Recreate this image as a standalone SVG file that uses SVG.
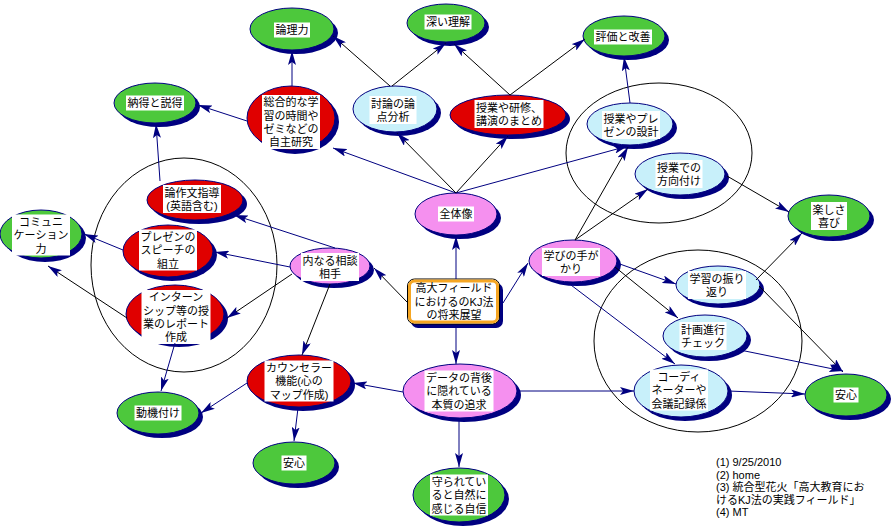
<svg xmlns="http://www.w3.org/2000/svg" width="891" height="530" viewBox="0 0 891 530">
  <defs>
    <marker id="ah" markerWidth="14" markerHeight="8" refX="14" refY="4" orient="auto" markerUnits="userSpaceOnUse">
      <path d="M0,0 L14,4 L0,8 L3,4 z" fill="#000080"/>
    </marker>
    <style>
      .bg { fill: #ffffff; }
      .sh { fill: #000080; }
      .g { fill: #4dc83c; stroke: #000080; stroke-width: 1; }
      .r { fill: #e00000; stroke: #000080; stroke-width: 1; }
      .p { fill: #f590ef; stroke: #000080; stroke-width: 1; }
      .b { fill: #c8f0fa; stroke: #000080; stroke-width: 1; }
      .box { fill: #ffffff; }
      .t { font-family: "Liberation Sans", "Noto Sans CJK JP", "Noto Sans CJK SC", sans-serif; font-size: 11px; fill: #000000; text-anchor: middle; }
      .note { font-family: "Liberation Sans", "Noto Sans CJK JP", "Noto Sans CJK SC", sans-serif; font-size: 11px; fill: #000000; }
      .grp { fill: none; stroke: #000000; stroke-width: 1; }
      .n { stroke: #000080; stroke-width: 1; fill: none; marker-end: url(#ah); }
      .k { stroke: #000000; stroke-width: 1; fill: none; marker-end: url(#ah); }
    </style>
  </defs>
  <rect class="bg" x="0" y="0" width="891" height="530"/>

  <!-- grouping outlines -->
  <g id="groups">
    <ellipse class="grp" cx="184" cy="265" rx="93" ry="107"/>
    <ellipse class="grp" cx="659" cy="153" rx="93" ry="70"/>
    <ellipse class="grp" cx="698" cy="341" rx="104" ry="91"/>
  </g>

  <!-- nodes: shadow, body, label box, label -->
  <g id="n-ronri">
    <ellipse class="sh" cx="296" cy="33" rx="42" ry="21"/>
    <ellipse class="g" cx="292" cy="29" rx="42" ry="21"/>
    <rect class="box" x="274" y="22.5" width="36" height="15"/>
    <text class="t" x="292" y="34.2">論理力</text>
  </g>
  <g id="n-fukai">
    <ellipse class="sh" cx="450" cy="27" rx="39" ry="19"/>
    <ellipse class="g" cx="446" cy="23" rx="39" ry="19"/>
    <rect class="box" x="424.5" y="14.5" width="47" height="15"/>
    <text class="t" x="448" y="26.2">深い理解</text>
  </g>
  <g id="n-hyoka">
    <ellipse class="sh" cx="628" cy="40" rx="41" ry="20"/>
    <ellipse class="g" cx="624" cy="36" rx="41" ry="20"/>
    <rect class="box" x="594" y="29.5" width="58" height="15"/>
    <text class="t" x="623" y="41.2">評価と改善</text>
  </g>
  <g id="n-nattoku">
    <ellipse class="sh" cx="159" cy="107" rx="41" ry="20"/>
    <ellipse class="g" cx="155" cy="103" rx="41" ry="20"/>
    <rect class="box" x="126" y="95.5" width="58" height="15"/>
    <text class="t" x="155" y="107.2">納得と説得</text>
  </g>
  <g id="n-comm">
    <ellipse class="sh" cx="45" cy="238" rx="41" ry="24"/>
    <ellipse class="g" cx="41" cy="234" rx="41" ry="24"/>
    <rect class="box" x="12" y="214.5" width="58" height="41"/>
    <text class="t" x="41" y="225.9">コミュニ<tspan x="41" dy="13.3">ケーション</tspan><tspan x="41" dy="13.3">力</tspan></text>
  </g>
  <g id="n-tanoshisa">
    <ellipse class="sh" cx="833" cy="220" rx="41" ry="21"/>
    <ellipse class="g" cx="829" cy="216" rx="41" ry="21"/>
    <rect class="box" x="811" y="202" width="36" height="28"/>
    <text class="t" x="829" y="213.55">楽しさ<tspan x="829" dy="13.3">喜び</tspan></text>
  </g>
  <g id="n-douki">
    <ellipse class="sh" cx="162" cy="417" rx="41" ry="21"/>
    <ellipse class="g" cx="158" cy="413" rx="41" ry="21"/>
    <rect class="box" x="134.5" y="405.5" width="47" height="15"/>
    <text class="t" x="158" y="417.2">動機付け</text>
  </g>
  <g id="n-anshin-a">
    <ellipse class="sh" cx="298" cy="467" rx="41" ry="21"/>
    <ellipse class="g" cx="294" cy="463" rx="41" ry="21"/>
    <rect class="box" x="281.5" y="455.5" width="25" height="15"/>
    <text class="t" x="294" y="467.2">安心</text>
  </g>
  <g id="n-mamorare">
    <ellipse class="sh" cx="463" cy="499" rx="46" ry="27"/>
    <ellipse class="g" cx="459" cy="495" rx="46" ry="27"/>
    <rect class="box" x="430" y="474.5" width="58" height="41"/>
    <text class="t" x="459" y="485.9">守られてい<tspan x="459" dy="13.3">ると自然に</tspan><tspan x="459" dy="13.3">感じる自信</tspan></text>
  </g>
  <g id="n-anshin-b">
    <ellipse class="sh" cx="850" cy="399" rx="41" ry="21"/>
    <ellipse class="g" cx="846" cy="395" rx="41" ry="21"/>
    <rect class="box" x="833.5" y="387.5" width="25" height="15"/>
    <text class="t" x="846" y="399.2">安心</text>
  </g>

  <g id="n-sougou">
    <ellipse class="sh" cx="295" cy="122" rx="44" ry="32"/>
    <ellipse class="r" cx="291" cy="118" rx="44" ry="32"/>
    <rect class="box" x="262" y="95" width="58" height="54"/>
    <text class="t" x="291" y="106.25">総合的な学<tspan x="291" dy="13.3">習の時間や</tspan><tspan x="291" dy="13.3">ゼミなどの</tspan><tspan x="291" dy="13.3">自主研究</tspan></text>
  </g>
  <g id="n-matome">
    <ellipse class="sh" cx="512" cy="119" rx="58" ry="20"/>
    <ellipse class="r" cx="508" cy="115" rx="58" ry="20"/>
    <rect class="box" x="474.5" y="100" width="69" height="28"/>
    <text class="t" x="509" y="111.55">授業や研修、<tspan x="509" dy="13.3">講演のまとめ</tspan></text>
  </g>
  <g id="n-ronsaku">
    <ellipse class="sh" cx="199" cy="204" rx="48" ry="20"/>
    <ellipse class="r" cx="195" cy="200" rx="48" ry="20"/>
    <rect class="box" x="163" y="185" width="58" height="28"/>
    <text class="t" x="192" y="196.55">論作文指導<tspan x="192" dy="13.3">(英語含む)</tspan></text>
  </g>
  <g id="n-presen">
    <ellipse class="sh" cx="172" cy="255" rx="45" ry="26"/>
    <ellipse class="r" cx="168" cy="251" rx="45" ry="26"/>
    <rect class="box" x="139" y="229.5" width="58" height="41"/>
    <text class="t" x="168" y="240.9">プレゼンの<tspan x="168" dy="13.3">スピーチの</tspan><tspan x="168" dy="13.3">組立</tspan></text>
  </g>
  <g id="n-intern">
    <ellipse class="sh" cx="179" cy="318" rx="49" ry="29"/>
    <ellipse class="r" cx="175" cy="314" rx="49" ry="29"/>
    <rect class="box" x="141.5" y="290" width="69" height="54"/>
    <text class="t" x="176" y="301.25">インターン<tspan x="176" dy="13.3">シップ等の授</tspan><tspan x="176" dy="13.3">業のレポート</tspan><tspan x="176" dy="13.3">作成</tspan></text>
  </g>
  <g id="n-counselor">
    <ellipse class="sh" cx="303" cy="385" rx="52" ry="26"/>
    <ellipse class="r" cx="299" cy="381" rx="52" ry="26"/>
    <rect class="box" x="264.5" y="360.5" width="69" height="41"/>
    <text class="t" x="299" y="371.9">カウンセラー<tspan x="299" dy="13.3">機能(心の</tspan><tspan x="299" dy="13.3">マップ作成)</tspan></text>
  </g>

  <g id="n-touron">
    <ellipse class="sh" cx="399" cy="113" rx="42" ry="23"/>
    <ellipse class="b" cx="395" cy="109" rx="42" ry="23"/>
    <rect class="box" x="369.5" y="96" width="47" height="28"/>
    <text class="t" x="393" y="107.55">討論の論<tspan x="393" dy="13.3">点分析</tspan></text>
  </g>
  <g id="n-sekkei">
    <ellipse class="sh" cx="634" cy="128" rx="43" ry="21"/>
    <ellipse class="b" cx="630" cy="124" rx="43" ry="21"/>
    <rect class="box" x="602" y="111" width="58" height="28"/>
    <text class="t" x="631" y="122.55">授業やプレ<tspan x="631" dy="13.3">ゼンの設計</tspan></text>
  </g>
  <g id="n-houkou">
    <ellipse class="sh" cx="684" cy="178" rx="45" ry="21"/>
    <ellipse class="b" cx="680" cy="174" rx="45" ry="21"/>
    <rect class="box" x="655.5" y="160" width="47" height="28"/>
    <text class="t" x="679" y="171.55">授業での<tspan x="679" dy="13.3">方向付け</tspan></text>
  </g>
  <g id="n-furikaeri">
    <ellipse class="sh" cx="722" cy="289" rx="42" ry="19"/>
    <ellipse class="b" cx="718" cy="285" rx="42" ry="19"/>
    <rect class="box" x="688" y="271" width="58" height="28"/>
    <text class="t" x="717" y="282.55">学習の振り<tspan x="717" dy="13.3">返り</tspan></text>
  </g>
  <g id="n-keikaku">
    <ellipse class="sh" cx="709" cy="340" rx="42" ry="21"/>
    <ellipse class="b" cx="705" cy="336" rx="42" ry="21"/>
    <rect class="box" x="679.5" y="322" width="47" height="28"/>
    <text class="t" x="703" y="333.55">計画進行<tspan x="703" dy="13.3">チェック</tspan></text>
  </g>
  <g id="n-coordi">
    <ellipse class="sh" cx="685" cy="395" rx="47" ry="26"/>
    <ellipse class="b" cx="681" cy="391" rx="47" ry="26"/>
    <rect class="box" x="650" y="369.5" width="58" height="41"/>
    <text class="t" x="679" y="380.9">コーディ<tspan x="679" dy="13.3">ネーターや</tspan><tspan x="679" dy="13.3">会議記録係</tspan></text>
  </g>

  <g id="n-zentai">
    <ellipse class="sh" cx="460" cy="218" rx="41" ry="21"/>
    <ellipse class="p" cx="456" cy="214" rx="41" ry="21"/>
    <rect class="box" x="438" y="206.5" width="36" height="15"/>
    <text class="t" x="456" y="218.2">全体像</text>
  </g>
  <g id="n-uchinaru">
    <ellipse class="sh" cx="334" cy="270" rx="40" ry="18"/>
    <ellipse class="p" cx="330" cy="266" rx="40" ry="18"/>
    <rect class="box" x="301" y="253" width="58" height="28"/>
    <text class="t" x="330" y="264.55">内なる相談<tspan x="330" dy="13.3">相手</tspan></text>
  </g>
  <g id="n-manabi">
    <ellipse class="sh" cx="577" cy="265" rx="44" ry="21"/>
    <ellipse class="p" cx="573" cy="261" rx="44" ry="21"/>
    <rect class="box" x="542" y="248" width="58" height="28"/>
    <text class="t" x="571" y="259.55">学びの手が<tspan x="571" dy="13.3">かり</tspan></text>
  </g>
  <g id="n-data">
    <ellipse class="sh" cx="464" cy="395" rx="57" ry="27"/>
    <ellipse class="p" cx="460" cy="391" rx="57" ry="27"/>
    <rect class="box" x="424.5" y="370.5" width="69" height="41"/>
    <text class="t" x="459" y="381.9">データの背後<tspan x="459" dy="13.3">に隠れている</tspan><tspan x="459" dy="13.3">本質の追求</tspan></text>
  </g>

  <g id="n-center">
    <rect x="411" y="283" width="92" height="45" rx="7" fill="#000080"/>
    <rect x="407.5" y="279" width="92" height="45" rx="7" fill="#ffffff" stroke="#000000" stroke-width="1"/>
    <rect x="409.5" y="281" width="88" height="41" rx="5" fill="none" stroke="#f5a623" stroke-width="3"/>
    <text class="t" x="454" y="292.4">高大フィールド<tspan x="454" dy="13.3">におけるのKJ法</tspan><tspan x="454" dy="13.3">の将来展望</tspan></text>
  </g>

  <!-- connectors -->
  <g id="connectors">
    <line class="n" x1="292" y1="86" x2="292" y2="51"/>
    <line class="n" x1="247" y1="121" x2="198" y2="105"/>
    <line class="k" x1="390" y1="86" x2="333" y2="36"/>
    <line class="k" x1="392" y1="86" x2="446" y2="43"/>
    <line class="k" x1="510" y1="95" x2="454" y2="44"/>
    <line class="k" x1="510" y1="95" x2="585" y2="39"/>
    <line class="n" x1="630" y1="103" x2="624" y2="57"/>
    <line class="n" x1="456" y1="193" x2="333" y2="148"/>
    <line class="k" x1="456" y1="193" x2="397" y2="133"/>
    <line class="k" x1="456" y1="193" x2="508" y2="136"/>
    <line class="n" x1="456" y1="193" x2="628" y2="146"/>
    <line class="k" x1="575" y1="240" x2="628" y2="147"/>
    <line class="k" x1="575" y1="240" x2="648" y2="189"/>
    <line class="k" x1="727" y1="176" x2="789" y2="212"/>
    <line class="k" x1="756" y1="280" x2="802" y2="233"/>
    <line class="n" x1="617" y1="263" x2="676" y2="284"/>
    <line class="k" x1="615" y1="267" x2="678" y2="318"/>
    <line class="n" x1="567" y1="282" x2="675" y2="364"/>
    <line class="k" x1="759" y1="286" x2="843" y2="372"/>
    <line class="n" x1="740" y1="350" x2="843" y2="371"/>
    <line class="n" x1="728" y1="391" x2="805" y2="394"/>
    <line class="n" x1="517" y1="391" x2="634" y2="391"/>
    <line class="n" x1="456" y1="279" x2="456" y2="236"/>
    <line class="n" x1="456" y1="328" x2="456" y2="364"/>
    <line class="n" x1="503" y1="303" x2="528" y2="263"/>
    <line class="k" x1="407" y1="302" x2="374" y2="268"/>
    <line class="n" x1="335" y1="248" x2="234" y2="215"/>
    <line class="n" x1="290" y1="267" x2="215" y2="252"/>
    <line class="k" x1="292" y1="274" x2="227" y2="318"/>
    <line class="k" x1="330" y1="284" x2="302" y2="355"/>
    <line class="n" x1="123" y1="250" x2="84" y2="234"/>
    <line class="k" x1="127" y1="318" x2="48" y2="266"/>
    <line class="n" x1="160" y1="181" x2="156" y2="124"/>
    <line class="n" x1="175" y1="343" x2="161" y2="391"/>
    <line class="n" x1="247" y1="383" x2="201" y2="413"/>
    <line class="n" x1="298" y1="408" x2="294" y2="441"/>
    <line class="n" x1="403" y1="392" x2="353" y2="383"/>
    <line class="n" x1="459" y1="419" x2="459" y2="467"/>
  </g>

  <!-- notes -->
  <g id="notes">
    <text class="note" x="716" y="466">(1) 9/25/2010</text>
    <text class="note" x="716" y="478.5">(2) home</text>
    <text class="note" x="716" y="491">(3) 統合型花火「高大教育にお</text>
    <text class="note" x="716" y="503.5">けるKJ法の実践フィールド」</text>
    <text class="note" x="716" y="516">(4) MT</text>
  </g>
</svg>
